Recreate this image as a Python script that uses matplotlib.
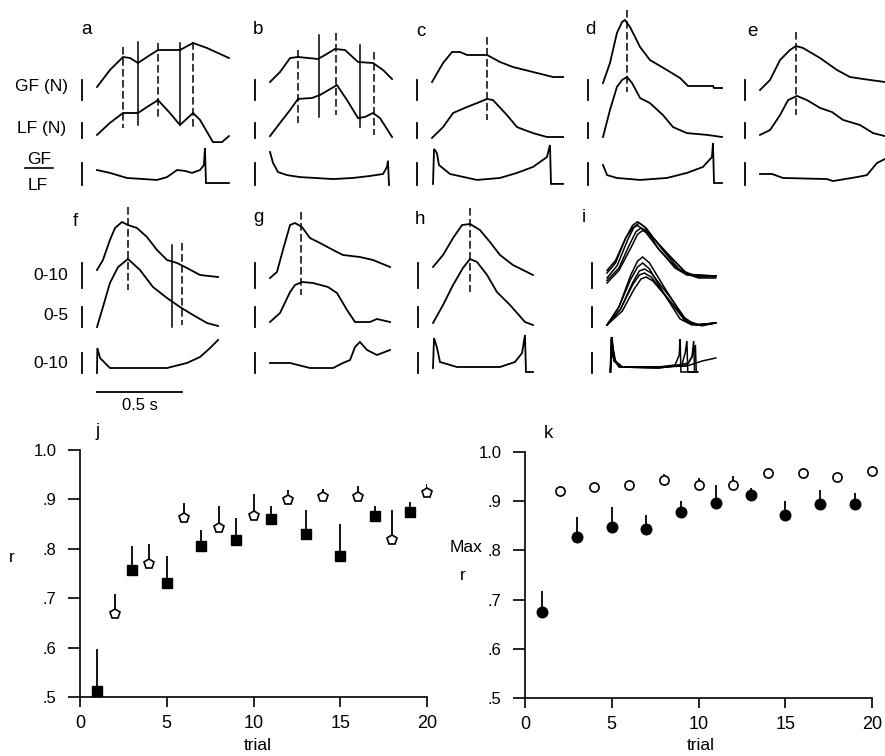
import matplotlib
matplotlib.use("Agg")
import matplotlib.pyplot as plt
from matplotlib.lines import Line2D

plt.rcParams['font.family'] = ['Liberation Sans', 'DejaVu Sans']

# ---------------- data: panels j and k ----------------
trials_odd = [1, 3, 5, 7, 9, 11, 13, 15, 17, 19]
trials_even = [2, 4, 6, 8, 10, 12, 14, 16, 18, 20]

j_r_odd = [0.512, 0.757, 0.731, 0.805, 0.818, 0.861, 0.829, 0.785, 0.866, 0.874]
j_sd_odd = [0.086, 0.049, 0.054, 0.033, 0.045, 0.025, 0.049, 0.065, 0.020, 0.021]
j_r_even = [0.669, 0.769, 0.863, 0.843, 0.867, 0.899, 0.904, 0.904, 0.818, 0.912]
j_sd_even = [0.040, 0.040, 0.029, 0.043, 0.044, 0.020, 0.018, 0.023, 0.060, 0.019]

k_r_odd = [0.675, 0.827, 0.847, 0.843, 0.879, 0.896, 0.912, 0.871, 0.895, 0.895]
k_sd_odd = [0.042, 0.040, 0.041, 0.028, 0.021, 0.036, 0.015, 0.029, 0.028, 0.022]
k_r_even = [0.920, 0.928, 0.932, 0.944, 0.932, 0.932, 0.957, 0.957, 0.949, 0.961]
k_sd_even = [0.010, 0.009, 0.010, 0.011, 0.015, 0.020, 0.008, 0.008, 0.008, 0.009]

x_ticks = [0, 5, 10, 15, 20]
y_ticks = [0.5, 0.6, 0.7, 0.8, 0.9, 1.0]
y_tick_labels = ['.5', '.6', '.7', '.8', '.9', '1.0']

# ---------------- data: force traces (time s, GF N, LF N, GF/LF) ----------------
a_gf_t = [0, 0.076, 0.153, 0.194, 0.241, 0.294, 0.359, 0.488, 0.565, 0.647, 0.776]
a_gf_v = [6.5, 15, 21.5, 21, 18.5, 21.5, 25, 25, 28.5, 26, 21]
a_lf_t = [0, 0.076, 0.153, 0.241, 0.294, 0.359, 0.429, 0.488, 0.565, 0.606, 0.682, 0.735, 0.776]
a_lf_v = [2.7, 6.7, 10, 10, 12, 14.3, 10, 6, 10, 7.7, 0.3, 0.3, 2.3]
a_ra_t = [0, 0.076, 0.176, 0.353, 0.412, 0.471, 0.518, 0.559, 0.606, 0.629, 0.635, 0.641, 0.776]
a_ra_v = [6.8, 5.5, 3.2, 2.3, 3.6, 6.8, 6.4, 5.5, 6.8, 9.1, 16.8, 0.9, 0.9]

b_gf_t = [0, 0.059, 0.118, 0.165, 0.282, 0.324, 0.382, 0.441, 0.518, 0.606, 0.665, 0.718]
b_gf_v = [9, 14, 21, 21.5, 20.5, 22.5, 25.5, 25, 19, 18.5, 15, 10.5]
b_lf_t = [0, 0.059, 0.118, 0.165, 0.247, 0.294, 0.394, 0.453, 0.518, 0.559, 0.606, 0.647, 0.718]
b_lf_v = [2.3, 6.7, 11, 14.7, 15, 16, 19.3, 14.3, 8.3, 8.7, 10, 8.3, 2]
b_ra_t = [0, 0.018, 0.047, 0.1, 0.176, 0.371, 0.488, 0.588, 0.665, 0.688, 0.694, 0.7]
b_ra_v = [15, 10, 5.9, 4.5, 3.6, 2.7, 3.2, 4.1, 5, 8.2, 11, 0]

c_gf_t = [0, 0.065, 0.118, 0.165, 0.206, 0.324, 0.4, 0.476, 0.594, 0.712, 0.771]
c_gf_v = [9, 18.5, 24, 24, 22.5, 22.5, 19, 16.5, 14, 11.5, 11.5]
c_lf_t = [0, 0.065, 0.124, 0.206, 0.282, 0.324, 0.359, 0.441, 0.5, 0.594, 0.676, 0.771]
c_lf_v = [1.7, 5.3, 10, 12, 13.7, 14.7, 14.3, 9.3, 5.3, 3.3, 2, 2]
c_ra_t = [0.006, 0.012, 0.029, 0.041, 0.106, 0.265, 0.4, 0.5, 0.594, 0.676, 0.694, 0.7, 0.771]
c_ra_v = [0.5, 16.4, 14.5, 9.1, 5, 2.3, 3.2, 5.5, 8.2, 12.7, 18.2, 0.5, 0.5]

d_gf_t = [0, 0.041, 0.082, 0.112, 0.129, 0.159, 0.218, 0.276, 0.376, 0.453, 0.5, 0.647, 0.653, 0.7]
d_gf_v = [8.5, 18.5, 33.5, 39, 40, 36.5, 26.5, 20, 15, 11, 7, 7, 6, 6]
d_lf_t = [0, 0.041, 0.082, 0.112, 0.141, 0.171, 0.218, 0.276, 0.353, 0.412, 0.494, 0.612, 0.7]
d_lf_v = [2, 11, 18.7, 21, 22, 20, 15, 13.3, 9.3, 5.3, 3.3, 2.7, 2]
d_ra_t = [0, 0.024, 0.082, 0.218, 0.376, 0.494, 0.588, 0.641, 0.647, 0.653, 0.7]
d_ra_v = [9.1, 4.5, 3.2, 2.3, 3.2, 5.5, 8.2, 12.7, 19.1, 0.9, 0.9]

e_gf_t = [0, 0.059, 0.118, 0.176, 0.212, 0.253, 0.353, 0.453, 0.529, 0.606, 0.735]
e_gf_v = [5, 10, 20, 25, 27, 26, 21, 15, 11.5, 10.5, 9]
e_lf_t = [0, 0.059, 0.118, 0.165, 0.218, 0.276, 0.353, 0.424, 0.488, 0.588, 0.665, 0.735]
e_lf_v = [2.7, 4.3, 9.3, 14.3, 15.7, 14.3, 11.7, 10.3, 7.7, 6, 3.3, 2.3]
e_ra_t = [0, 0.071, 0.135, 0.394, 0.429, 0.571, 0.629, 0.688, 0.735]
e_ra_v = [5, 5, 3.2, 2.7, 1.8, 3.6, 4.5, 10, 11.8]

f_gf_t = [0, 0.035, 0.076, 0.106, 0.147, 0.182, 0.235, 0.294, 0.353, 0.412, 0.471, 0.529, 0.606, 0.712]
f_gf_v = [7.2, 11.2, 19.2, 24, 26.4, 25.2, 24, 20.4, 15.2, 11.2, 10, 8, 5.2, 4.4]
f_lf_t = [0, 0.035, 0.076, 0.124, 0.182, 0.253, 0.329, 0.412, 0.488, 0.565, 0.647, 0.712]
f_lf_v = [0, 5, 11, 15, 17, 14.25, 10, 7.25, 5, 3, 1, 0.25]
f_ra_t = [0, 0.002, 0.018, 0.076, 0.212, 0.412, 0.529, 0.606, 0.665, 0.712]
f_ra_v = [0, 12.5, 7.5, 2.5, 2.5, 2.5, 5, 8, 12.5, 16.5]

g_gf_t = [0, 0.041, 0.076, 0.118, 0.147, 0.188, 0.235, 0.294, 0.371, 0.429, 0.529, 0.606, 0.706]
g_gf_v = [4, 6.4, 15.2, 25.2, 26, 24.4, 20, 18, 15.2, 13.2, 12.4, 11.2, 8.4]
g_lf_t = [0, 0.059, 0.118, 0.147, 0.188, 0.253, 0.341, 0.394, 0.453, 0.5, 0.588, 0.629, 0.706]
g_lf_v = [1.25, 3.5, 8.75, 10.5, 11.25, 11, 10, 8.5, 4.25, 1.25, 1.25, 2, 1.25]
g_ra_t = [0, 0.118, 0.235, 0.371, 0.429, 0.471, 0.5, 0.529, 0.571, 0.629, 0.706]
g_ra_v = [5, 5, 2.5, 2.5, 5, 6.5, 13, 15.5, 11.5, 9, 11.5]

h_gf_t = [0, 0.059, 0.118, 0.171, 0.218, 0.276, 0.335, 0.394, 0.47, 0.588]
h_gf_v = [8.4, 13.2, 20, 25.2, 25.6, 23.2, 18.4, 13.2, 9.2, 5.2]
h_lf_t = [0, 0.059, 0.118, 0.176, 0.218, 0.259, 0.318, 0.376, 0.453, 0.541, 0.588]
h_lf_v = [1, 5.5, 10.5, 14.75, 17, 16.25, 13, 8.75, 5.5, 1.25, 0.5]
h_ra_t = [0, 0.006, 0.024, 0.041, 0.141, 0.394, 0.482, 0.524, 0.541, 0.547, 0.588]
h_ra_v = [2.5, 17.5, 12.5, 5.5, 3, 3, 5.5, 10, 19, 0.5, 0.5]

# panel i: several superimposed trials
i_gf_t = [[0, 0.06, 0.12, 0.16, 0.19, 0.23, 0.33, 0.43, 0.50, 0.64],
          [0, 0.05, 0.11, 0.15, 0.18, 0.22, 0.31, 0.41, 0.48, 0.64],
          [0, 0.07, 0.13, 0.17, 0.20, 0.24, 0.35, 0.46, 0.53, 0.64],
          [0, 0.05, 0.11, 0.15, 0.18, 0.22, 0.30, 0.40, 0.47, 0.64],
          [0, 0.07, 0.14, 0.18, 0.21, 0.25, 0.36, 0.47, 0.54, 0.64]]
i_gf_v = [[4, 9, 19, 24.5, 26, 24, 15, 7, 5, 4.8],
          [7, 11, 20, 24, 25, 23, 15, 8, 5.5, 4.8],
          [3, 8, 17, 22.5, 24, 22.5, 14, 6.5, 4.5, 4.5],
          [6, 10, 20, 25, 26.5, 24.5, 16, 8, 5.2, 4.8],
          [2, 7, 16, 21.5, 23, 21.5, 13.5, 5.5, 4, 4]]
i_lf_t = [[0, 0.07, 0.14, 0.18, 0.21, 0.25, 0.35, 0.45, 0.52, 0.64],
          [0, 0.07, 0.14, 0.18, 0.21, 0.25, 0.34, 0.43, 0.50, 0.64],
          [0, 0.08, 0.15, 0.19, 0.22, 0.26, 0.37, 0.47, 0.55, 0.64],
          [0, 0.08, 0.15, 0.19, 0.22, 0.26, 0.36, 0.46, 0.53, 0.64],
          [0, 0.09, 0.16, 0.20, 0.23, 0.27, 0.38, 0.48, 0.56, 0.64]]
i_lf_v = [[0.5, 5, 13, 16.5, 17.5, 16, 9, 2.5, 0.5, 1],
          [0.5, 5, 12, 15, 16, 14.5, 8, 2, 0.5, 1],
          [0.5, 4.5, 11, 14, 14.5, 13.5, 7.5, 1.5, 0.5, 1],
          [0.5, 4.5, 10.5, 13, 13.5, 12.5, 7, 1.5, 0.5, 1],
          [0.5, 4, 9.5, 12, 12.5, 11.5, 6, 1, 0.3, 1]]
i_ra_t = [[0.02, 0.025, 0.035, 0.07, 0.30, 0.40, 0.425, 0.43, 0.435, 0.53],
          [0.02, 0.025, 0.04, 0.08, 0.30, 0.44, 0.46, 0.47, 0.475, 0.53],
          [0.02, 0.03, 0.04, 0.08, 0.30, 0.47, 0.50, 0.51, 0.515, 0.53],
          [0.02, 0.03, 0.045, 0.09, 0.35, 0.48, 0.51, 0.52, 0.525, 0.535],
          [0.02, 0.03, 0.05, 0.09, 0.30, 0.47, 0.56, 0.64]]
i_ra_v = [[0.5, 18, 8, 3, 3, 4, 9, 17, 0.5, 0.5],
          [0.5, 17, 7, 3, 2.5, 4, 10, 16, 0.5, 0.5],
          [0.5, 18, 6, 3, 2.5, 4, 8, 16, 0.5, 0.5],
          [0.5, 16, 6, 3, 3, 5, 10, 14, 0.5, 0.5],
          [0.5, 15, 6, 3, 3, 3.5, 6, 7.5]]

# event markers: (time s, style, top px, bottom px)
a_events = [(0.153, '--', 47, 128), (0.241, '-', 42, 125), (0.359, '--', 43, 120),
            (0.488, '-', 43, 125), (0.565, '--', 42, 127)]
b_events = [(0.165, '--', 50, 123), (0.288, '-', 35, 117), (0.388, '--', 33, 115),
            (0.529, '-', 45, 127), (0.612, '--', 52, 135)]
c_events = [(0.324, '--', 37, 120)]
d_events = [(0.141, '--', 10, 92)]
e_events = [(0.212, '--', 32, 115)]
f_events = [(0.182, '--', 207, 290), (0.441, '-', 245, 327), (0.5, '--', 243, 325)]
g_events = [(0.182, '--', 212, 295)]
h_events = [(0.218, '--', 208, 292)]
i_events = []

# ---------------- figure ----------------
W, H = 885, 756
fig = plt.figure(figsize=(W / 100, H / 100), dpi=100)
LW = 1.3
DASH = (0, (5, 2.2))
PX_PER_S = 170.0
SPAN = 0.9
BAR_T = -0.09


def px_axes(left, top, right, bottom):
    return fig.add_axes([left / W, 1 - bottom / H, (right - left) / W, (bottom - top) / H])


def trace_axes(x0, y0, ppu, lo=-30.0, hi=60.0):
    ax = px_axes(x0, y0 - hi * ppu, x0 + SPAN * PX_PER_S, y0 - lo * ppu)
    ax.set_xlim(0, SPAN)
    ax.set_ylim(lo, hi)
    ax.axis('off')
    ax.patch.set_alpha(0)
    return ax


def ftext(x, y, s, **kw):
    kw.setdefault('fontsize', 12.5)
    kw.setdefault('ha', 'center')
    kw.setdefault('va', 'center')
    fig.text(x / W, 1 - y / H, s, **kw)


# row geometry: (zero px, px per unit, scale-bar start value, span)
ROW1 = {'gf': (100, 2.0, 0, 10), 'lf': (143, 3.0, 1.67, 5), 'ra': (185, 2.2, 0, 10),
        'top': 0, 'bottom': 200}
ROW2 = {'gf': (288, 2.5, 0, 10), 'lf': (327, 4.0, 0, 5), 'ra': (373, 2.0, 0, 10),
        'top': 200, 'bottom': 400}

panels = [
    ('a', 97, ROW1, [(a_gf_t, a_gf_v)], [(a_lf_t, a_lf_v)], [(a_ra_t, a_ra_v)], a_events, (87, 30)),
    ('b', 270, ROW1, [(b_gf_t, b_gf_v)], [(b_lf_t, b_lf_v)], [(b_ra_t, b_ra_v)], b_events, (258, 30)),
    ('c', 432, ROW1, [(c_gf_t, c_gf_v)], [(c_lf_t, c_lf_v)], [(c_ra_t, c_ra_v)], c_events, (421, 32)),
    ('d', 603, ROW1, [(d_gf_t, d_gf_v)], [(d_lf_t, d_lf_v)], [(d_ra_t, d_ra_v)], d_events, (590, 29)),
    ('e', 760, ROW1, [(e_gf_t, e_gf_v)], [(e_lf_t, e_lf_v)], [(e_ra_t, e_ra_v)], e_events, (752, 31)),
    ('f', 97, ROW2, [(f_gf_t, f_gf_v)], [(f_lf_t, f_lf_v)], [(f_ra_t, f_ra_v)], f_events, (75, 222)),
    ('g', 270, ROW2, [(g_gf_t, g_gf_v)], [(g_lf_t, g_lf_v)], [(g_ra_t, g_ra_v)], g_events, (258, 218)),
    ('h', 433, ROW2, [(h_gf_t, h_gf_v)], [(h_lf_t, h_lf_v)], [(h_ra_t, h_ra_v)], h_events, (420, 220)),
    ('i', 607, ROW2, list(zip(i_gf_t, i_gf_v)), list(zip(i_lf_t, i_lf_v)),
     list(zip(i_ra_t, i_ra_v)), i_events, (584, 217)),
]

for name, x0, row, gf, lf, ra, events, lab in panels:
    lw = 1.1 if name == 'i' else LW
    for key, traces in (('gf', gf), ('lf', lf), ('ra', ra)):
        y0, ppu, b0, bspan = row[key]
        ax = trace_axes(x0, y0, ppu)
        for t, v in traces:
            ax.plot(t, v, color='k', lw=lw, clip_on=False, solid_joinstyle='miter')
        ax.plot([BAR_T, BAR_T], [b0, b0 + bspan], color='k', lw=LW, clip_on=False)
        if name == 'f' and key == 'ra':
            ax.plot([0, 0.5], [-9.5, -9.5], color='k', lw=LW, clip_on=False)
            ax.text(0.25, -16.5, '0.5 s', ha='center', va='center', fontsize=12)
    ov = px_axes(x0, row['top'], x0 + SPAN * PX_PER_S, row['bottom'])
    ov.set_xlim(0, SPAN)
    ov.set_ylim(row['bottom'], row['top'])
    ov.axis('off')
    ov.patch.set_alpha(0)
    for t, st, ytop, ybot in events:
        ls = DASH if st == '--' else '-'
        ov.plot([t, t], [ytop, ybot], color='k', lw=1.1, linestyle=ls, clip_on=False)
    ftext(lab[0], lab[1], name, fontsize=13.5)

# left-hand labels
ftext(68, 86, 'GF (N)', ha='right')
ftext(66, 128, 'LF (N)', ha='right')
ftext(39, 160, 'GF')
fig.add_artist(Line2D([25 / W, 53 / W], [1 - 168 / H, 1 - 168 / H], color='k', lw=1.2))
ftext(38, 186, 'LF')
ftext(68, 275, '0-10', ha='right')
ftext(68, 315, '0-5', ha='right')
ftext(68, 363, '0-10', ha='right')


# ---------------- panels j and k ----------------
def style_axes(ax):
    ax.set_xlim(0, 20)
    ax.set_ylim(0.5, 1.0)
    for s in ('top', 'right'):
        ax.spines[s].set_visible(False)
    for s in ('left', 'bottom'):
        ax.spines[s].set_linewidth(1.2)
    ax.set_xticks(x_ticks)
    ax.set_xticklabels([str(x) for x in x_ticks])
    ax.set_yticks(y_ticks)
    ax.set_yticklabels(y_tick_labels)
    ax.tick_params(axis='y', direction='out', length=9, width=1.2, pad=8, labelsize=12)
    ax.tick_params(axis='x', direction='out', length=7, width=1.2, pad=6, labelsize=13)
    ax.patch.set_alpha(0)


axj = px_axes(80, 450, 427, 697)
style_axes(axj)
axj.vlines(trials_odd, j_r_odd, [r + s for r, s in zip(j_r_odd, j_sd_odd)], color='k', lw=1.3, zorder=2)
axj.vlines(trials_even, j_r_even, [r + s for r, s in zip(j_r_even, j_sd_even)], color='k', lw=1.3, zorder=2)
axj.plot(trials_odd, j_r_odd, ls='none', marker='s', ms=7.2, mfc='k', mec='k', zorder=3, clip_on=False)
axj.plot(trials_even, j_r_even, ls='none', marker='p', ms=7.8, mfc='white', mec='k', mew=1.2,
         zorder=3, clip_on=False)

axk = px_axes(525, 452, 872, 698)
style_axes(axk)
axk.vlines(trials_odd, k_r_odd, [r + s for r, s in zip(k_r_odd, k_sd_odd)], color='k', lw=1.3, zorder=2)
axk.vlines(trials_even, k_r_even, [r + s for r, s in zip(k_r_even, k_sd_even)], color='k', lw=1.3, zorder=2)
axk.plot(trials_odd, k_r_odd, ls='none', marker='o', ms=7.6, mfc='k', mec='k', zorder=3, clip_on=False)
axk.plot(trials_even, k_r_even, ls='none', marker='o', ms=6.6, mfc='white', mec='k', mew=1.2,
         zorder=3, clip_on=False)

ftext(98, 432, 'j', fontsize=13.5)
ftext(548, 433, 'k', fontsize=13.5)
ftext(12, 557, 'r')
ftext(466, 548, 'Max')
ftext(463, 575, 'r')
ftext(258, 745, 'trial')
ftext(701, 745, 'trial')

fig.savefig('out.png', dpi=100)
